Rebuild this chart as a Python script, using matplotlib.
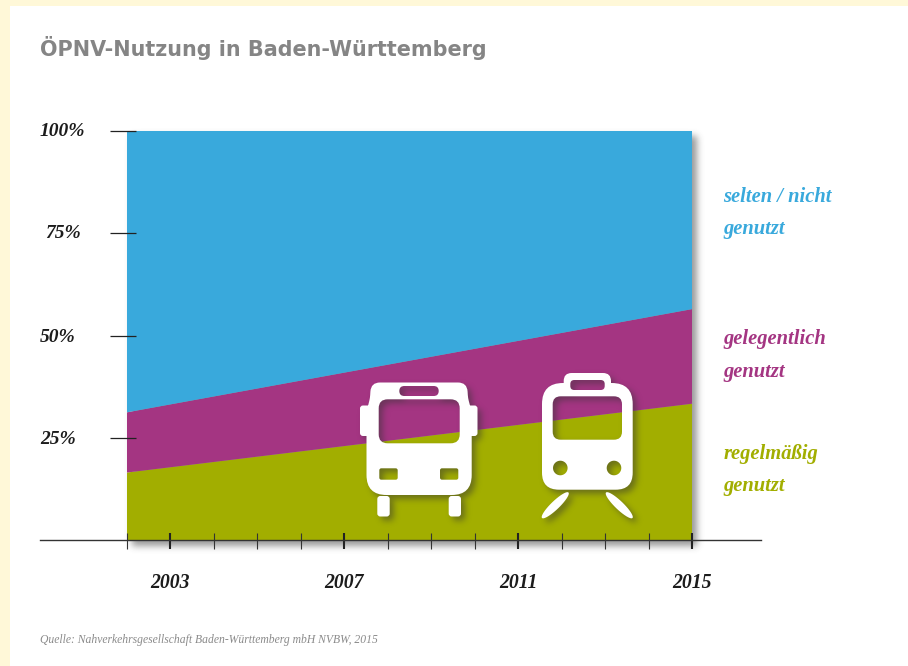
import numpy as np
import matplotlib
matplotlib.use("Agg")
import matplotlib.pyplot as plt
from matplotlib.path import Path
from matplotlib.patches import PathPatch, Rectangle
from matplotlib.lines import Line2D

# data
years = [2002, 2015]
regular = [16.6, 33.4]
occasional = [14.7, 23.1]
rarely = [68.7, 43.5]

percent_ticks = [25, 50, 75, 100]
percent_labels = ["25%", "50%", "75%", "100%"]
year_ticks = [2003, 2007, 2011, 2015]
minor_years = [2002, 2004, 2005, 2006, 2008, 2009, 2010, 2012, 2013, 2014]

BLUE = "#39A9DC"
PURPLE = "#A43582"
OLIVE = "#A2AE00"
CREAM = "#FFF8D8"
DARK = "#1c1c1c"
W, H = 908, 666


def blur_1d(a, kernel, axis):
    return np.apply_along_axis(lambda m: np.convolve(m, kernel, mode="same"), axis, a)


def drop_shadow(sigma=3.0, offset=4, alpha=0.55):
    # agg filter: blurred and shifted copy of the alpha channel
    def process(im, dpi):
        pad = int(3 * sigma + offset + 2)
        a = np.pad(im[:, :, 3], pad)
        x = np.arange(-pad, pad + 1)
        kernel = np.exp(-x**2 / (2 * sigma**2))
        kernel /= kernel.sum()
        a = blur_1d(blur_1d(a, kernel, 0), kernel, 1)
        a = np.roll(np.roll(a, offset, axis=0), offset, axis=1)
        out = np.zeros(a.shape + (4,))
        out[:, :, :3] = 0.2
        out[:, :, 3] = a * alpha
        return out, -pad, -pad
    return process


def round_poly(pts):
    # pts are (x, y, radius), corners get a quadratic curve
    verts, codes = [], []
    n = len(pts)
    for i in range(n):
        p = np.array(pts[i][:2], float)
        r = pts[i][2]
        a = np.array(pts[i - 1][:2], float)
        b = np.array(pts[(i + 1) % n][:2], float)
        da = (a - p) / np.linalg.norm(a - p)
        db = (b - p) / np.linalg.norm(b - p)
        verts.append(p + da * r)
        codes.append(Path.MOVETO if i == 0 else Path.LINETO)
        if r > 0:
            verts += [p, p + db * r]
            codes += [Path.CURVE3, Path.CURVE3]
    verts.append(verts[0])
    codes.append(Path.CLOSEPOLY)
    return Path(verts, codes)


def rrect(x0, y0, x1, y1, r, hole=False):
    pts = [(x0, y0, r), (x1, y0, r), (x1, y1, r), (x0, y1, r)]
    return round_poly(pts[::-1] if hole else pts)


def circle_hole(cx, cy, r):
    t = np.linspace(0, 2 * np.pi, 41)[:-1]
    pts = np.c_[cx + r * np.cos(t), cy - r * np.sin(t)]
    return Path(np.r_[pts, pts[:1]], closed=True)


def rail(x0, y0, x1, y1, w):
    # slim oval between two ends
    c = np.array([(x0 + x1) / 2, (y0 + y1) / 2])
    u = np.array([x1 - x0, y1 - y0]) / 2
    n = np.array([-u[1], u[0]]) / np.hypot(*u) * w
    t = np.linspace(0, 2 * np.pi, 41)[:-1]
    pts = c + np.outer(np.cos(t), u) + np.outer(np.sin(t), n)
    return Path(np.r_[pts, pts[:1]], closed=True)


def bus_icon():
    body = round_poly([(371, 382.5, 9), (467, 382.5, 9), (468, 398, 3), (471.7, 412, 3),
                       (471.7, 495, 20), (366.5, 495, 20), (366.5, 412, 3), (370, 398, 3)])
    return Path.make_compound_path(
        body,
        rrect(360, 405.5, 372, 436, 3),
        rrect(466, 405.5, 477.5, 436, 3),
        rrect(377.3, 496, 389.7, 516.5, 3),
        rrect(448.7, 496, 461, 516.5, 3),
        rrect(378.7, 399.3, 459.7, 443.3, 9, hole=True),
        rrect(399.3, 386, 438.7, 396, 5, hole=True),
        rrect(379.3, 468.3, 397.7, 479.7, 2, hole=True),
        rrect(440, 468.3, 458.3, 479.7, 2, hole=True),
    )


def train_icon():
    body = round_poly([(563.7, 373, 8), (611, 373, 8), (611, 383, 0), (632.7, 383, 21),
                       (632.7, 489.7, 17), (542, 489.7, 17), (542, 383, 21), (563.7, 383, 0)])
    return Path.make_compound_path(
        body,
        rail(568.5, 492.5, 542, 518, 4.2),
        rail(606, 492.5, 632.5, 518, 4.2),
        rrect(570.3, 380, 604.7, 390, 4, hole=True),
        rrect(552.7, 396.3, 622, 439.7, 8, hole=True),
        circle_hole(560.3, 468, 7.3),
        circle_hole(614, 468, 7.3),
    )


fig = plt.figure(figsize=(W / 100, H / 100), dpi=100, facecolor=CREAM)

# white page on the cream border
bg = fig.add_axes([0, 0, 1, 1], zorder=0)
bg.set_xlim(0, W)
bg.set_ylim(H, 0)
bg.axis("off")
bg.add_patch(Rectangle((10, 6), W - 10, H - 6, fc="white", ec="none"))

# main chart
ax = fig.add_axes([127 / W, 1 - 540.5 / H, 565 / W, 409.5 / H], zorder=1)
ax.patch.set_alpha(0)
ax.set_xlim(years[0], years[-1])
ax.set_ylim(0, 100)
for s in ax.spines.values():
    s.set_visible(False)

shadow = Rectangle((years[0], 0), years[-1] - years[0], 100, fc="k", ec="none", zorder=0, clip_on=False)
shadow.set_agg_filter(drop_shadow(sigma=3.5, offset=5, alpha=0.5))
ax.add_patch(shadow)
ax.stackplot(years, regular, occasional, rarely, colors=[OLIVE, PURPLE, BLUE], lw=0, zorder=1)

ax.set_xticks(year_ticks)
ax.set_xticks(minor_years, minor=True)
ax.set_yticks(percent_ticks)
ax.set_yticklabels([])
ax.set_xticklabels([str(y) for y in year_ticks], family="Liberation Serif", style="italic",
                   weight="bold", fontsize=14.2, color=DARK)
ax.tick_params(axis="x", which="major", direction="inout", length=12.2, width=1.5, color="#222222", pad=17)
ax.tick_params(axis="x", which="minor", direction="inout", length=12.2, width=0.8, color="#333333")
ax.tick_params(axis="y", length=0)

# y tick marks sit off centre of the axis edge, 110 to 136 px
ax.hlines(percent_ticks, (110 - 127) / 565, (136 - 127) / 565, transform=ax.get_yaxis_transform(),
          colors="#222222", lw=0.9, clip_on=False, zorder=3)

# overlay in pixel coordinates
top = fig.add_axes([0, 0, 1, 1], zorder=2)
top.patch.set_alpha(0)
top.set_xlim(0, W)
top.set_ylim(H, 0)
top.axis("off")

top.add_line(Line2D([40, 761], [539.8, 539.8], color="#333333", lw=1.0))

for icon in (bus_icon(), train_icon()):
    sh = PathPatch(icon, fc="k", ec="none", zorder=3)
    sh.set_agg_filter(drop_shadow(sigma=3.2, offset=4, alpha=0.5))
    top.add_patch(sh)
    top.add_patch(PathPatch(icon, fc="white", ec="none", zorder=4))

top.text(40, 48, "ÖPNV-Nutzung in Baden-Württemberg", family="DejaVu Sans", weight="bold",
         fontsize=14.95, color="#858585", va="center", ha="left")

for lab, x, y in zip(percent_labels, [40, 40, 45, 40], [439, 337, 234, 131]):
    top.text(x, y, lab, family="Liberation Serif", style="italic", weight="bold",
             fontsize=14, color=DARK, va="center", ha="left")

side_labels = [("selten / nicht", 197, BLUE), ("genutzt", 229, BLUE),
               ("gelegentlich", 339, PURPLE), ("genutzt", 372, PURPLE),
               ("regelmäßig", 454, OLIVE), ("genutzt", 486, OLIVE)]
for lab, y, col in side_labels:
    top.text(723.5, y, lab, family="Liberation Serif", style="italic", weight="bold",
             fontsize=14.8, color=col, va="center", ha="left")

top.text(40, 640, "Quelle: Nahverkehrsgesellschaft Baden-Württemberg mbH NVBW, 2015",
         family="Liberation Serif", style="italic", fontsize=8.35, color="#8a8a8a", va="center", ha="left")

fig.savefig("out.png", dpi=100, facecolor=CREAM)
